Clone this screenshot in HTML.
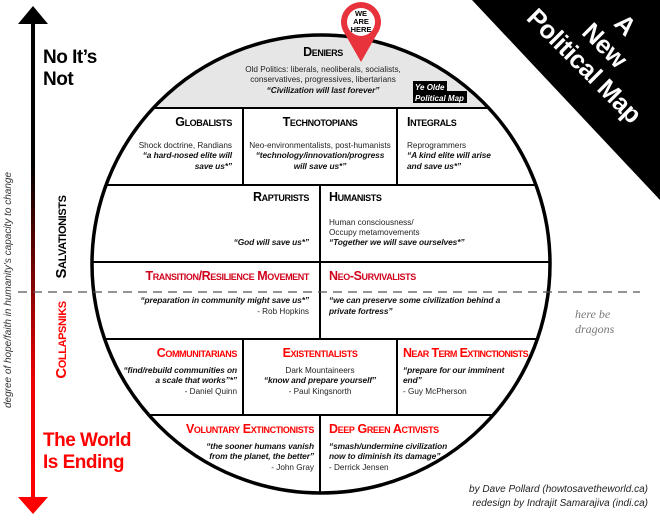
<!DOCTYPE html>
<html><head><meta charset="utf-8"><style>
html,body{margin:0;padding:0;background:#fff}
svg{display:block}
text{font-family:"Liberation Sans",sans-serif}
.h{font-weight:bold;font-variant:small-caps;font-size:12.5px;letter-spacing:-0.4px}
.r{fill:#d0021b}
.t{font-size:8.2px;fill:#222}
.q{font-size:8.4px;font-weight:bold;font-style:italic;fill:#111;letter-spacing:-0.1px}
</style></head><body>
<svg width="660" height="520" viewBox="0 0 660 520" xmlns="http://www.w3.org/2000/svg">
<defs>
<linearGradient id="g" x1="0" y1="0" x2="0" y2="1">
<stop offset="0" stop-color="#000"/><stop offset="0.3" stop-color="#000"/><stop offset="0.75" stop-color="#e00"/><stop offset="1" stop-color="#f00"/>
</linearGradient>
<clipPath id="c"><circle cx="321" cy="264" r="229"/></clipPath>
</defs>
<polygon points="472,0 660,0 660,200" fill="#000"/>
<g transform="translate(605,45) rotate(45)" text-anchor="middle">
<text x="0" y="-20" fill="#fff" font-weight="bold" font-size="25.5" letter-spacing="-0.5">A</text>
<text x="0" y="9" fill="#fff" font-weight="bold" font-size="25.5" letter-spacing="-0.5">New</text>
<text x="0" y="38" fill="#fff" font-weight="bold" font-size="25.5" letter-spacing="-0.5">Political Map</text>
</g>
<rect x="31" y="22" width="4" height="478" fill="url(#g)"/>
<polygon points="33,6 18,24 48,24" fill="#000"/>
<polygon points="33,514 18,497 48,497" fill="#f00"/>
<text x="43" y="63" font-weight="bold" font-size="19" letter-spacing="-0.5">No It’s</text>
<text x="43" y="85" font-weight="bold" font-size="19" letter-spacing="-0.5">Not</text>
<text x="43" y="446" font-weight="bold" font-size="19" fill="#f00" letter-spacing="-0.5">The World</text>
<text x="43" y="468" font-weight="bold" font-size="19" fill="#f00" letter-spacing="-0.5">Is Ending</text>
<text transform="translate(66,237) rotate(-90)" text-anchor="middle" class="h" style="font-size:15px">Salvationists</text>
<text transform="translate(66,340) rotate(-90)" text-anchor="middle" class="h" fill="#f00" style="font-size:15px">Collapsniks</text>
<text transform="translate(11,290) rotate(-90)" text-anchor="middle" font-size="10" font-style="italic" fill="#333">degree of hope/faith in humanity’s capacity to change</text>
<g clip-path="url(#c)">
<rect x="80" y="30" width="480" height="78" fill="#e6e6e6"/>
<g stroke="#000" stroke-width="2">
<line x1="80" y1="108" x2="560" y2="108"/>
<line x1="80" y1="185" x2="560" y2="185"/>
<line x1="80" y1="262" x2="560" y2="262"/>
<line x1="80" y1="339" x2="560" y2="339"/>
<line x1="80" y1="415" x2="560" y2="415"/>
<line x1="243" y1="108" x2="243" y2="185"/>
<line x1="397" y1="108" x2="397" y2="185"/>
<line x1="320" y1="185" x2="320" y2="339"/>
<line x1="243" y1="339" x2="243" y2="415"/>
<line x1="397" y1="339" x2="397" y2="415"/>
<line x1="320" y1="415" x2="320" y2="500"/>
</g>
</g>
<circle cx="321" cy="264" r="229" fill="none" stroke="#000" stroke-width="3.5"/>
<line x1="18" y1="292" x2="640" y2="292" stroke="#555" stroke-width="1.2" stroke-dasharray="9,6"/>
<text x="323" y="56" text-anchor="middle" class="h">Deniers</text>
<text x="323" y="72" text-anchor="middle" class="t">Old Politics: liberals, neoliberals, socialists,</text>
<text x="323" y="82" text-anchor="middle" class="t">conservatives, progressives, libertarians</text>
<text x="323" y="93" text-anchor="middle" class="q">“Civilization will last forever”</text>
<rect x="413" y="81" width="34" height="11" fill="#000"/>
<rect x="413" y="91" width="54" height="12" fill="#000"/>
<text x="415" y="90" font-size="8" font-weight="bold" font-style="italic" fill="#fff">Ye Olde</text>
<text x="415" y="101" font-size="8" font-weight="bold" font-style="italic" fill="#fff">Political Map</text>
<path d="M361,62 L345,34 A20,20 0 1 1 377,34 Z" fill="#e8323c"/>
<circle cx="361" cy="22" r="14" fill="#fff"/>
<g font-size="7.5" font-weight="bold" text-anchor="middle"><text x="361" y="16">WE</text><text x="361" y="24">ARE</text><text x="361" y="32">HERE</text></g>
<text x="232" y="126" text-anchor="end" class="h">Globalists</text>
<text x="232" y="148" text-anchor="end" class="t">Shock doctrine, Randians</text>
<text x="232" y="158" text-anchor="end" class="q">“a hard-nosed elite will</text>
<text x="232" y="169" text-anchor="end" class="q">save us*”</text>
<text x="320" y="126" text-anchor="middle" class="h">Technotopians</text>
<text x="320" y="148" text-anchor="middle" class="t">Neo-environmentalists, post-humanists</text>
<text x="320" y="158" text-anchor="middle" class="q">“technology/innovation/progress</text>
<text x="320" y="169" text-anchor="middle" class="q">will save us*”</text>
<text x="407" y="126" class="h">Integrals</text>
<text x="407" y="148" class="t">Reprogrammers</text>
<text x="407" y="158" class="q">“A kind elite will arise</text>
<text x="407" y="169" class="q">and save us*”</text>
<text x="309" y="201" text-anchor="end" class="h">Rapturists</text>
<text x="309" y="245" text-anchor="end" class="q">“God will save us*”</text>
<text x="329" y="201" class="h">Humanists</text>
<text x="329" y="225" class="t">Human consciousness/</text>
<text x="329" y="235" class="t">Occupy metamovements</text>
<text x="329" y="245" class="q">“Together we will save ourselves*”</text>
<text x="309" y="280" text-anchor="end" class="h r">Transition/Resilience Movement</text>
<text x="309" y="303" text-anchor="end" class="q">“preparation in community might save us*”</text>
<text x="309" y="314" text-anchor="end" class="t">- Rob Hopkins</text>
<text x="329" y="280" class="h r">Neo-Survivalists</text>
<text x="329" y="303" class="q">“we can preserve some civilization behind a</text>
<text x="329" y="314" class="q">private fortress”</text>
<text x="237" y="357" text-anchor="end" class="h" fill="#f00">Communitarians</text>
<text x="237" y="373" text-anchor="end" class="q">“find/rebuild communities on</text>
<text x="237" y="383" text-anchor="end" class="q">a scale that works”*”</text>
<text x="237" y="394" text-anchor="end" class="t">- Daniel Quinn</text>
<text x="320" y="357" text-anchor="middle" class="h" fill="#f00">Existentialists</text>
<text x="320" y="373" text-anchor="middle" class="t">Dark Mountaineers</text>
<text x="320" y="383" text-anchor="middle" class="q">“know and prepare yourself”</text>
<text x="320" y="394" text-anchor="middle" class="t">- Paul Kingsnorth</text>
<text x="403" y="357" class="h" fill="#f00" style="letter-spacing:-0.6px">Near Term Extinctionists</text>
<text x="403" y="373" class="q">“prepare for our imminent</text>
<text x="403" y="383" class="q">end”</text>
<text x="403" y="394" class="t">- Guy McPherson</text>
<text x="314" y="433" text-anchor="end" class="h" fill="#f00">Voluntary Extinctionists</text>
<text x="314" y="449" text-anchor="end" class="q">“the sooner humans vanish</text>
<text x="314" y="459" text-anchor="end" class="q">from the planet, the better”</text>
<text x="314" y="470" text-anchor="end" class="t">- John Gray</text>
<text x="329" y="433" class="h" fill="#f00">Deep Green Activists</text>
<text x="329" y="449" class="q">“smash/undermine civilization</text>
<text x="329" y="459" class="q">now to diminish its damage”</text>
<text x="329" y="470" class="t">- Derrick Jensen</text>
<text x="575" y="318" font-style="italic" font-size="12" fill="#777" style="font-family:'Liberation Serif',serif">here be</text>
<text x="575" y="333" font-style="italic" font-size="12" fill="#777" style="font-family:'Liberation Serif',serif">dragons</text>
<text x="648" y="492" text-anchor="end" font-size="10" font-style="italic" fill="#222">by Dave Pollard (howtosavetheworld.ca)</text>
<text x="648" y="506" text-anchor="end" font-size="10" font-style="italic" fill="#222">redesign by Indrajit Samarajiva (indi.ca)</text>
</svg>
</body></html>
